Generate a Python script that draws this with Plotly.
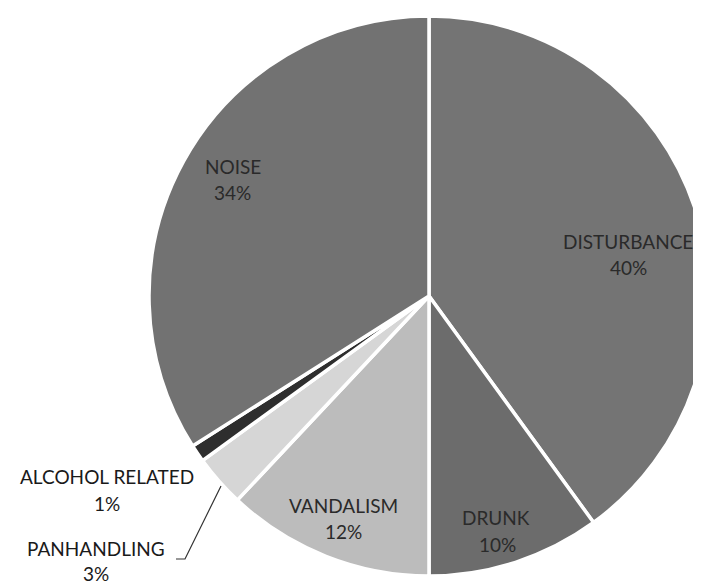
import plotly.graph_objects as go

W, H = 701, 586

# ---- data ----
labels = ["DISTURBANCE", "DRUNK", "VANDALISM", "PANHANDLING", "ALCOHOL RELATED", "NOISE"]
values = [40, 10, 12, 3, 1, 34]
pct_text = ["40%", "10%", "12%", "3%", "1%", "34%"]

# ---- style ----
colors = ["#747474", "#6c6c6c", "#bcbcbc", "#d6d6d6", "#2e2e2e", "#727272"]

# label placement (pixel centres of the name line and the percent line)
name_pos = [(620, 234), (488, 509), (335, 497), (88, 540), (99, 468), (225, 158)]
pct_pos = [(620, 260), (489, 536), (335, 523), (88, 565), (99, 495), (224, 185)]
inside = [True, True, True, False, False, True]


def px(x):
    return x / W


def py(y):
    return 1 - y / H


cx, cy, r = 421, 288, 280

fig = go.Figure(
    go.Pie(
        labels=labels,
        values=values,
        sort=False,
        direction="clockwise",
        rotation=0,
        marker=dict(colors=colors, line=dict(color="white", width=3.5)),
        textinfo="none",
        hoverinfo="label+percent",
        showlegend=False,
        domain=dict(x=[px(cx - r), px(cx + r)], y=[py(cy + r), py(cy - r)]),
    )
)

ann = []
for i, lab in enumerate(labels):
    col = "#2a2a2a" if inside[i] else "#1a1a1a"
    for (x, y), t in ((name_pos[i], lab), (pct_pos[i], pct_text[i])):
        ann.append(dict(
            x=px(x), y=py(y), xref="paper", yref="paper",
            text=t, showarrow=False, xanchor="center", yanchor="middle",
            font=dict(family="Lato", size=19, color=col),
        ))

leader = [(168, 551), (177, 551), (213, 478)]
path = "M " + " L ".join(f"{px(x)},{py(y)}" for x, y in leader)

fig.update_layout(
    width=W, height=H,
    margin=dict(l=0, r=0, t=0, b=0),
    paper_bgcolor="white",
    plot_bgcolor="white",
    annotations=ann,
    shapes=[dict(type="path", path=path, xref="paper", yref="paper",
                 line=dict(color="#333333", width=1.2))],
)

fig.write_html("out.html")
